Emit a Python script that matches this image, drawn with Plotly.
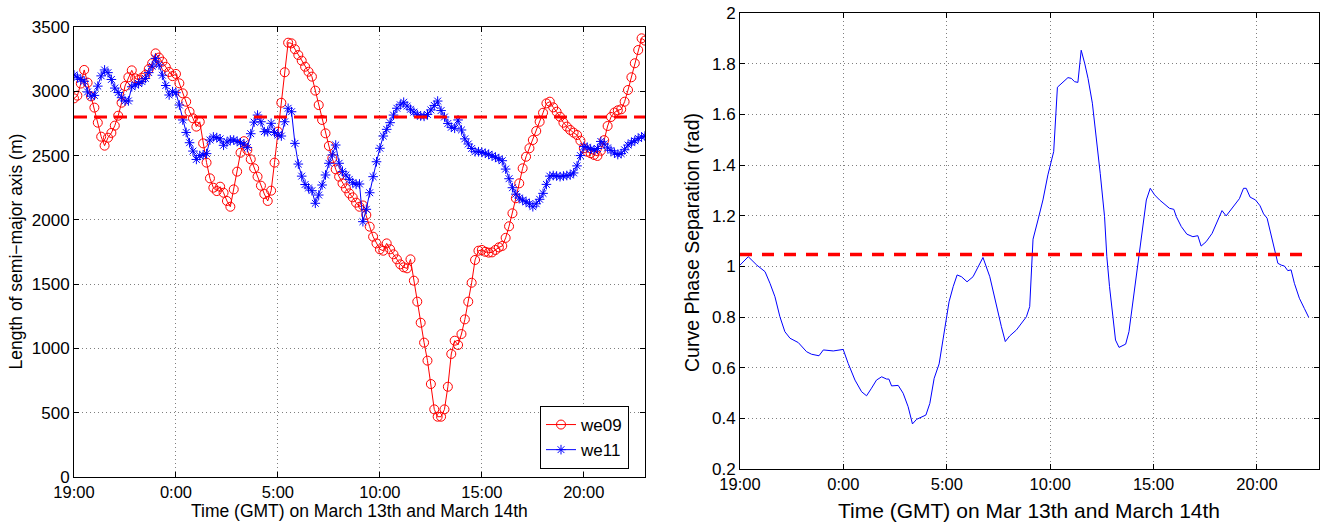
import plotly.graph_objects as go

# ---------------- data ----------------
# left panel: semi-major axis length (m), one sample every 10 min from 19:00 Mar 13
we09 = [
    2945, 2966, 3060, 3166, 3067, 2960,
    2873, 2756, 2647, 2577, 2639, 2676,
    2733, 2810, 2911, 3041, 3109, 3163,
    3101, 3088, 3106, 3127, 3173, 3218,
    3295, 3262, 3230, 3190, 3150, 3118,
    3135, 3062, 2984, 2919, 2841, 2790,
    2725, 2763, 2595, 2445, 2323, 2250,
    2224, 2258, 2211, 2147, 2102, 2237,
    2375, 2522, 2612, 2543, 2471, 2401,
    2336, 2266, 2201, 2147, 2227, 2445,
    2686, 2911, 3148, 3378, 3373, 3327,
    3282, 3238, 3191, 3152, 3114, 3005,
    2893, 2777, 2673, 2575, 2479, 2393,
    2336, 2284, 2245, 2206, 2175, 2134,
    2102, 2112, 2038, 1947, 1869, 1817,
    1771, 1760, 1817, 1771, 1732, 1693,
    1654, 1631, 1623, 1693, 1527, 1364,
    1200, 1045, 905, 723, 526, 469,
    469, 526, 702, 957, 1060, 1027,
    1112, 1226, 1364, 1511, 1688, 1760,
    1766, 1752, 1745, 1747, 1766, 1786,
    1797, 1860, 1950, 2051, 2168, 2284,
    2401, 2491, 2557, 2621, 2691, 2763,
    2833, 2906, 2919, 2875, 2841, 2802,
    2756, 2725, 2699, 2678, 2660, 2616,
    2557, 2530, 2518, 2505, 2497, 2538,
    2620, 2730, 2800, 2835, 2852, 2860,
    2919, 3010, 3109, 3218, 3321, 3412,
    3394,
]
we11 = [
    3127, 3109, 3092, 3078, 2995, 2962,
    2968, 3040, 3120, 3166, 3145, 3092,
    3025, 2990, 2950, 2925, 2925, 3035,
    3050, 3060, 3075, 3100, 3145, 3195,
    3256, 3205, 3125, 3045, 2971, 2997,
    2989, 2893, 2777, 2680, 2600, 2535,
    2470, 2500, 2505, 2515, 2621, 2645,
    2640, 2630, 2580, 2605, 2621, 2621,
    2610, 2600, 2590, 2562, 2670, 2760,
    2815, 2763, 2686, 2686, 2751, 2680,
    2660, 2652, 2763, 2868, 2841, 2595,
    2434, 2340, 2275, 2248, 2227, 2129,
    2193, 2271, 2349, 2440, 2505, 2582,
    2440, 2375, 2349, 2315, 2289, 2276,
    2279, 1986, 2082, 2211, 2336, 2452,
    2557, 2652, 2704, 2756, 2815, 2868,
    2895, 2915, 2885, 2860, 2838, 2818,
    2808, 2805, 2820, 2855, 2890, 2924,
    2850, 2800, 2750, 2720, 2712, 2777,
    2699, 2630, 2590, 2555, 2530, 2530,
    2525, 2518, 2510, 2498, 2487, 2475,
    2460, 2395, 2320, 2250, 2200, 2170,
    2154, 2140, 2125, 2102, 2125, 2160,
    2206, 2276, 2340, 2345, 2341, 2336,
    2341, 2345, 2349, 2365, 2420, 2500,
    2570, 2565, 2550, 2543, 2555, 2610,
    2590, 2560, 2540, 2520, 2508, 2515,
    2545, 2582, 2600, 2615, 2634, 2645,
    2652,
]
sample_hours = [i / 6 for i in range(len(we09))]  # hours after 19:00

# right panel: curve phase separation (rad)
phase_t = [
    0.0, 0.4, 0.81, 1.21, 1.45, 1.69, 1.93, 2.17, 2.42, 2.82, 3.22, 3.46, 3.82,
    4.03, 4.51, 4.99, 5.23, 5.56, 5.88, 6.12, 6.36, 6.60, 6.85, 7.09, 7.20,
    7.33, 7.65, 7.89, 8.13, 8.34, 8.54, 8.99, 9.18, 9.39, 9.63, 9.86, 10.11,
    10.31, 10.50, 10.71, 10.98, 11.27, 11.68, 11.75, 12.08, 12.40, 12.64,
    12.83, 13.04, 13.37, 13.69, 13.85, 14.01, 14.12, 14.17, 14.41, 14.65,
    14.89, 15.17, 15.35, 15.62, 15.86, 16.02, 16.18, 16.34, 16.50, 16.67,
    16.83, 17.04, 17.23, 17.42, 17.63, 17.74, 17.87, 18.00, 18.16, 18.33,
    18.52, 18.65, 18.81, 18.97, 19.13, 19.28, 19.46, 19.65, 19.84, 20.05,
    20.29, 20.53, 20.77, 20.98, 21.10, 21.34, 21.61, 21.90, 22.14, 22.30,
    22.54, 22.83, 23.10, 23.31, 23.51, 23.83, 24.15, 24.35, 24.48, 24.67,
    24.93, 25.15, 25.32, 25.49, 25.69, 25.90, 26.01, 26.17, 26.33, 26.49,
    26.65, 26.81, 27.05, 27.29, 27.50,
]
phase_v = [
    1.005, 1.038, 1.005, 0.979, 0.933, 0.880, 0.801, 0.742, 0.716, 0.699, 0.663,
    0.653, 0.647, 0.670, 0.666, 0.672, 0.617, 0.551, 0.505, 0.489, 0.519, 0.551,
    0.564, 0.555, 0.555, 0.528, 0.530, 0.499, 0.446, 0.378, 0.396, 0.413, 0.459,
    0.558, 0.615, 0.729, 0.860, 0.920, 0.966, 0.959, 0.939, 0.959, 1.025, 1.035,
    0.959, 0.841, 0.762, 0.703, 0.725, 0.749, 0.782, 0.801, 0.841, 1.025, 1.107,
    1.183, 1.262, 1.361, 1.453, 1.707, 1.729, 1.745, 1.742, 1.729, 1.726, 1.853,
    1.801, 1.742, 1.644, 1.512, 1.367, 1.196, 1.038, 0.920, 0.821, 0.709, 0.680,
    0.686, 0.693, 0.742, 0.841, 0.939, 1.025, 1.157, 1.262, 1.308, 1.282, 1.262,
    1.246, 1.229, 1.225, 1.196, 1.157, 1.127, 1.117, 1.121, 1.080, 1.097, 1.130,
    1.183, 1.220, 1.199, 1.233, 1.267, 1.308, 1.308, 1.273, 1.262, 1.239, 1.207,
    1.190, 1.117, 1.052, 1.012, 1.005, 1.001, 0.983, 0.986, 0.933, 0.874, 0.834,
    0.799,
]

axis_threshold_left = 2800
axis_threshold_right = 1.047

x_tickvals = [0, 5, 10, 15, 20, 25]
x_ticktext = ["19:00", "0:00", "5:00", "10:00", "15:00", "20:00"]
left_yticks = [0, 500, 1000, 1500, 2000, 2500, 3000, 3500]
right_yticks = [0.2, 0.4, 0.6, 0.8, 1.0, 1.2, 1.4, 1.6, 1.8, 2.0]
right_yticktext = ["0.2", "0.4", "0.6", "0.8", "1", "1.2", "1.4", "1.6", "1.8", "2"]

# ---------------- figure ----------------
W, H = 1323, 522
FONT = "Liberation Sans, Arial, Helvetica, sans-serif"

fig = go.Figure()
fig.add_trace(go.Scatter(
    x=sample_hours, y=we09, name="we09", mode="lines+markers",
    line=dict(color="#ff0000", width=1),
    marker=dict(symbol="circle-open", size=9, color="#ff0000", line=dict(width=1)),
    xaxis="x", yaxis="y"))
fig.add_trace(go.Scatter(
    x=sample_hours, y=we11, name="we11", mode="lines+markers",
    line=dict(color="#0000ff", width=1),
    marker=dict(symbol="asterisk-open", size=8, color="#0000ff", line=dict(width=1, color="#0000ff")),
    xaxis="x", yaxis="y"))
fig.add_trace(go.Scatter(
    x=phase_t, y=phase_v, mode="lines", showlegend=False,
    line=dict(color="#0000ff", width=1),
    xaxis="x2", yaxis="y2"))

fig.add_shape(type="line", xref="x domain", x0=0, x1=1, yref="y",
              y0=axis_threshold_left, y1=axis_threshold_left,
              line=dict(color="#ff0000", width=3, dash="13px,7px"))
fig.add_shape(type="line", xref="x2", x0=phase_t[0], x1=phase_t[-1], yref="y2",
              y0=axis_threshold_right, y1=axis_threshold_right,
              line=dict(color="#ff0000", width=3.5, dash="12px,10px"))

common = dict(showline=True, linecolor="black", linewidth=1, mirror="ticks",
              ticks="inside", ticklen=5, tickcolor="black", tickwidth=1,
              showgrid=True, gridcolor="#7f7f7f", gridwidth=1, griddash="1px,3px",
              zeroline=False, automargin=False)
yfont = dict(family=FONT, size=17, color="black")
xfont = dict(family=FONT, size=16.5, color="black")

fig.update_layout(
    width=W, height=H, margin=dict(l=0, r=0, t=0, b=0),
    paper_bgcolor="white", plot_bgcolor="white",
    font=dict(family=FONT, color="black"),
    xaxis=dict(domain=[74 / W, 645 / W], range=[0, 28], anchor="y",
               tickvals=x_tickvals, ticktext=x_ticktext, tickfont=xfont, **common),
    yaxis=dict(domain=[1 - 477 / H, 1 - 27 / H], range=[0, 3500], anchor="x",
               tickvals=left_yticks, ticktext=[str(v) for v in left_yticks], tickfont=yfont, **common),
    xaxis2=dict(domain=[740 / W, 1319 / W], range=[0, 28], anchor="y2",
                tickvals=x_tickvals, ticktext=x_ticktext, tickfont=xfont, **common),
    yaxis2=dict(domain=[1 - 469 / H, 1 - 13 / H], range=[0.2, 2.0], anchor="x2",
                tickvals=right_yticks, ticktext=right_yticktext, tickfont=yfont, **common),
    legend=dict(x=629 / W, xanchor="right", y=1 - 406 / H, yanchor="top",
                bgcolor="white", bordercolor="black", borderwidth=1,
                font=dict(family=FONT, size=17, color="black")),
    showlegend=True,
)

annots = [
    dict(text="Length of semi\u2212major axis (m)", x=15.5 / W, y=1 - 252 / H, textangle=-90, size=17.5),
    dict(text="Time (GMT) on March 13th and March 14th", x=359.5 / W, y=1 - 511 / H, textangle=0, size=17.5),
    dict(text="Curve Phase Separation (rad)", x=692 / W, y=1 - 243 / H, textangle=-90, size=19.5),
    dict(text="Time (GMT) on Mar 13th and March 14th", x=1029 / W, y=1 - 510 / H, textangle=0, size=21),
]
for a in annots:
    fig.add_annotation(text=a["text"], x=a["x"], y=a["y"], xref="paper", yref="paper",
                       xanchor="center", yanchor="middle", showarrow=False,
                       textangle=a["textangle"],
                       font=dict(family=FONT, size=a["size"], color="black"))

fig.write_html("out.html", config={"displayModeBar": False},
               post_script="document.body.style.margin='0px';document.body.style.overflow='hidden';")
